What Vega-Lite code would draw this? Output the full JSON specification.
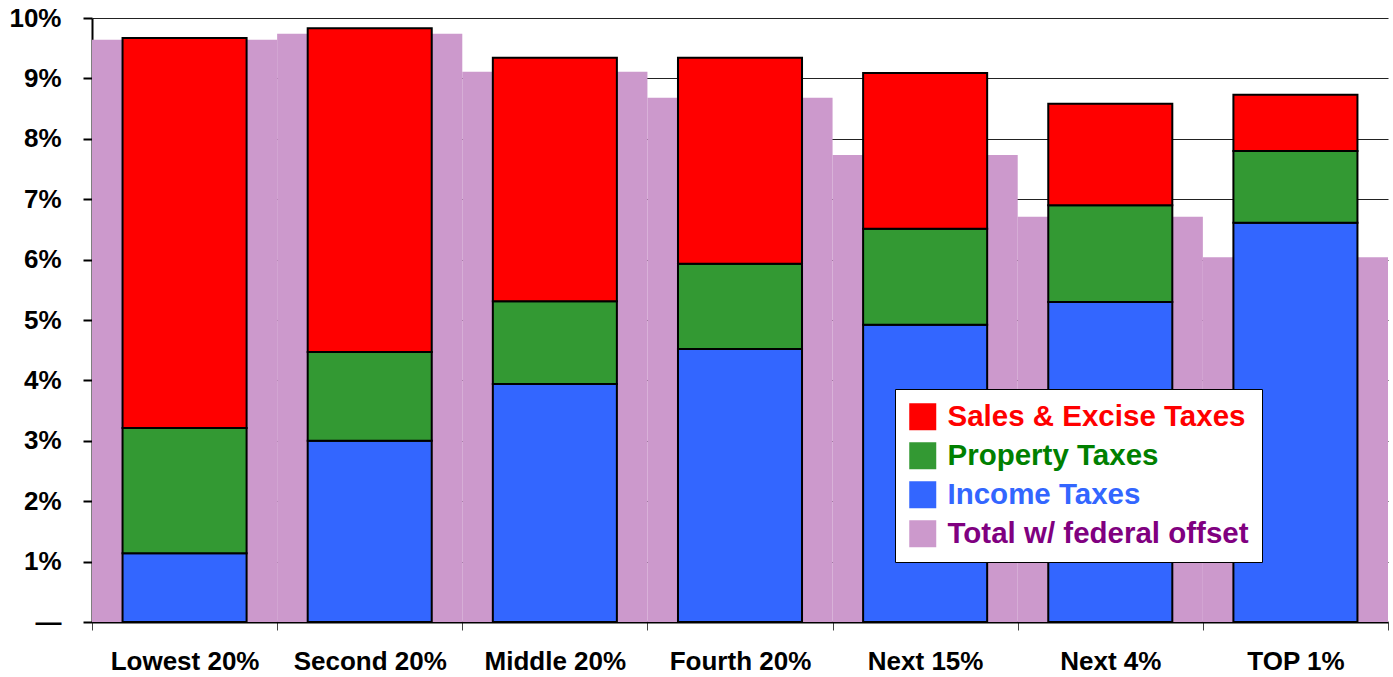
{
  "$schema": "https://vega.github.io/schema/vega-lite/v6.json",
  "width": 1296,
  "height": 604,
  "autosize": {"type": "none"},
  "padding": {"left": 92, "top": 18, "right": 5, "bottom": 55},
  "background": "white",
  "config": {
    "view": {"stroke": null},
    "font": "Liberation Sans",
    "axis": {"labelFont": "Liberation Sans", "labelFontWeight": "bold", "labelColor": "black"}
  },
  "data": {
    "values": [
      {"group": "Lowest 20%", "series": "Income Taxes", "value": 1.14},
      {"group": "Lowest 20%", "series": "Property Taxes", "value": 2.07},
      {"group": "Lowest 20%", "series": "Sales & Excise Taxes", "value": 6.46},
      {"group": "Lowest 20%", "series": "Total w/ federal offset", "value": 9.64},
      {"group": "Second 20%", "series": "Income Taxes", "value": 3.0},
      {"group": "Second 20%", "series": "Property Taxes", "value": 1.47},
      {"group": "Second 20%", "series": "Sales & Excise Taxes", "value": 5.36},
      {"group": "Second 20%", "series": "Total w/ federal offset", "value": 9.74},
      {"group": "Middle 20%", "series": "Income Taxes", "value": 3.94},
      {"group": "Middle 20%", "series": "Property Taxes", "value": 1.37},
      {"group": "Middle 20%", "series": "Sales & Excise Taxes", "value": 4.03},
      {"group": "Middle 20%", "series": "Total w/ federal offset", "value": 9.11},
      {"group": "Fourth 20%", "series": "Income Taxes", "value": 4.52},
      {"group": "Fourth 20%", "series": "Property Taxes", "value": 1.41},
      {"group": "Fourth 20%", "series": "Sales & Excise Taxes", "value": 3.41},
      {"group": "Fourth 20%", "series": "Total w/ federal offset", "value": 8.68},
      {"group": "Next 15%", "series": "Income Taxes", "value": 4.92},
      {"group": "Next 15%", "series": "Property Taxes", "value": 1.59},
      {"group": "Next 15%", "series": "Sales & Excise Taxes", "value": 2.58},
      {"group": "Next 15%", "series": "Total w/ federal offset", "value": 7.73},
      {"group": "Next 4%", "series": "Income Taxes", "value": 5.30},
      {"group": "Next 4%", "series": "Property Taxes", "value": 1.60},
      {"group": "Next 4%", "series": "Sales & Excise Taxes", "value": 1.68},
      {"group": "Next 4%", "series": "Total w/ federal offset", "value": 6.71},
      {"group": "TOP 1%", "series": "Income Taxes", "value": 6.61},
      {"group": "TOP 1%", "series": "Property Taxes", "value": 1.19},
      {"group": "TOP 1%", "series": "Sales & Excise Taxes", "value": 0.93},
      {"group": "TOP 1%", "series": "Total w/ federal offset", "value": 6.04}
    ]
  },
  "encoding": {
    "x": {
      "field": "group",
      "type": "nominal",
      "sort": null,
      "scale": {"paddingInner": 0, "paddingOuter": 0},
      "axis": {
        "title": null,
        "labelAngle": 0,
        "labelFontSize": 26,
        "labelPadding": 18,
        "tickBand": "extent",
        "tickSize": 8,
        "tickColor": "#444444",
        "tickWidth": 1,
        "domainColor": "black",
        "domainWidth": 2,
        "grid": false
      }
    },
    "y": {
      "field": "value",
      "type": "quantitative",
      "scale": {"domain": [0, 10], "nice": false},
      "axis": {
        "title": null,
        "values": [0, 1, 2, 3, 4, 5, 6, 7, 8, 9, 10],
        "labelExpr": "datum.value == 0 ? '—' : datum.value + '%'",
        "labelFontSize": 26,
        "labelPadding": 22,
        "tickSize": 9,
        "tickWidth": 2,
        "tickColor": "black",
        "domainColor": "black",
        "domainWidth": 2,
        "grid": true,
        "gridColor": "#222222",
        "gridWidth": 1
      }
    },
    "color": {
      "field": "series",
      "type": "nominal",
      "scale": {
        "domain": ["Sales & Excise Taxes", "Property Taxes", "Income Taxes", "Total w/ federal offset"],
        "range": ["#ff0000", "#339933", "#3366ff", "#cc99cc"]
      },
      "legend": {
        "title": null,
        "orient": "none",
        "legendX": 803,
        "legendY": 371,
        "fillColor": "white",
        "strokeColor": "black",
        "padding": 13,
        "symbolType": "square",
        "symbolSize": 729,
        "symbolStrokeWidth": 0,
        "labelFont": "Liberation Sans",
        "labelFontWeight": "bold",
        "labelFontSize": 29.5,
        "labelOffset": 10,
        "rowPadding": 8,
        "labelLimit": 500,
        "labelColor": {"expr": "datum.value == 'Sales & Excise Taxes' ? '#ff0000' : datum.value == 'Property Taxes' ? '#008000' : datum.value == 'Income Taxes' ? '#3366ff' : '#800080'"},
        "encode": {
          "symbols": {
            "fill": {
              "condition": [
                {"test": "datum.value == 'Sales & Excise Taxes'", "value": "#ff0000"},
                {"test": "datum.value == 'Property Taxes'", "value": "#008000"},
                {"test": "datum.value == 'Income Taxes'", "value": "#3366ff"}
              ],
              "value": "#cc99cc"
            },
            "strokeWidth": {"value": 0}
          }
        }
      }
    }
  },
  "layer": [
    {
      "transform": [{"filter": "datum.series == 'Total w/ federal offset'"}],
      "mark": {"type": "bar", "opacity": 1},
      "encoding": {
        "y": {"field": "value", "type": "quantitative", "stack": null}
      }
    },
    {
      "transform": [{"filter": "datum.series != 'Total w/ federal offset'"}],
      "mark": {"type": "bar", "width": {"band": 0.67}, "stroke": "black", "strokeWidth": 2, "opacity": 1},
      "encoding": {
        "order": {"field": "series", "sort": "ascending"}
      }
    }
  ]
}
